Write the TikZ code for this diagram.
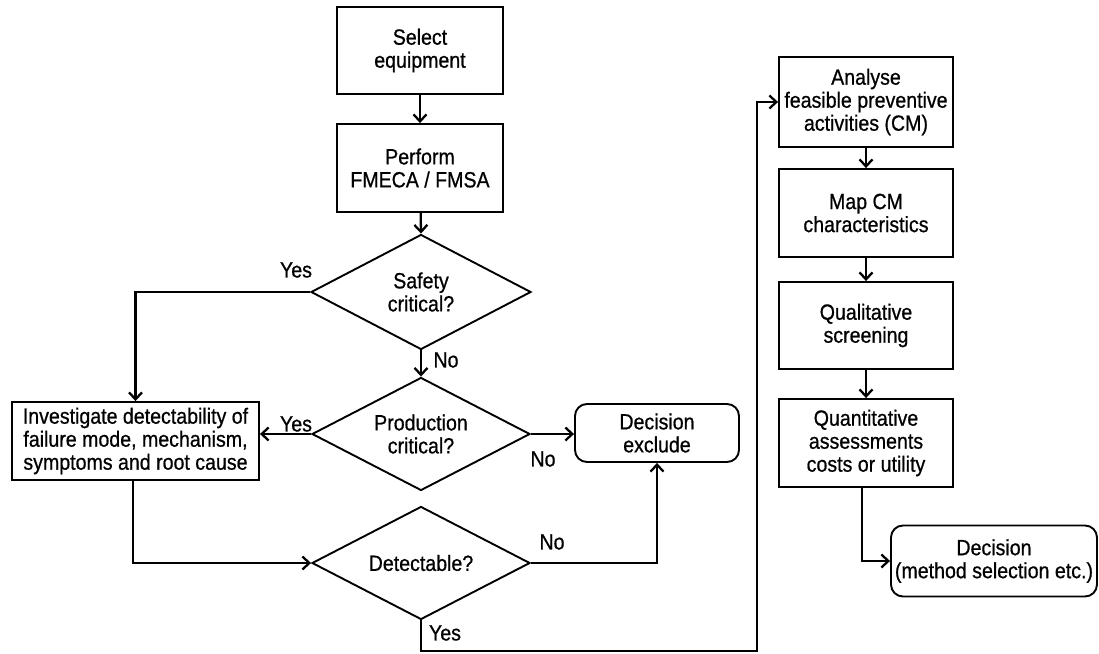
\documentclass[tikz,border=0pt]{standalone}
\usepackage{fontspec}
\setmainfont{Liberation Sans}[FakeStretch=0.89,FakeBold=0.7]
\usetikzlibrary{arrows.meta,shapes.geometric}

\begin{document}
\begin{tikzpicture}[x=1bp,y=-1bp, line width=1.9bp,
  font=\fontsize{22bp}{23bp}\selectfont,
  every node/.style={inner sep=0pt, align=center},
  box/.style={draw, line width=1.9bp, minimum width=#1},
  box/.default=166bp,
  endbox/.style={draw, line width=1.9bp, rounded corners=12bp},
  query/.style={draw, diamond, aspect=2, line width=1.9bp,
                minimum width=218bp, minimum height=113bp},
  flow/.style={draw, line width=2.3bp, -{Straight Barb[length=7bp,width=13bp]}},
  tag/.style={anchor=center}
]
\useasboundingbox (0,0) rectangle (1099,654);

% left column
\node[box, minimum height=87bp] (select) at (420,50.5) {Select\\equipment};
\node[box, minimum height=88bp] (perform) at (420,168) {Perform\\FMECA / FMSA};
\node[query, minimum width=220bp, minimum height=115bp] (safety) at (421,292) {Safety\\critical?};
\node[query] (production) at (421,434) {Production\\critical?};
\node[query] (detect) at (421,563) {Detectable?};
\node[box=247bp, minimum height=78bp] (invest) at (135.5,441)
  {Investigate detectability of\\failure mode, mechanism,\\symptoms and root cause};
\node[endbox, minimum width=164bp, minimum height=58bp] (exclude) at (657,433) {Decision\\exclude};

% right column
\node[box=174bp, minimum height=90bp] (analyse) at (866,102)
  {Analyse\\feasible preventive\\activities (CM)};
\node[box=174bp, minimum height=88bp] (map) at (866,213) {Map CM\\characteristics};
\node[box=174bp, minimum height=87bp] (qual) at (866,325.5) {Qualitative\\screening};
\node[box=174bp, minimum height=88bp] (quant) at (866,443)
  {Quantitative\\assessments\\costs or utility};
\node[endbox, minimum width=206bp, minimum height=71bp] (method) at (994,561)
  {Decision\\(method selection etc.)};

% branch labels
\node[tag] (ySafety) at (296,270) {Yes};
\node[tag] (nSafety) at (446,360) {No};
\node[tag] (yProd) at (296,424) {Yes};
\node[tag] (nProd) at (543,459) {No};
\node[tag] (nDetect) at (552,542) {No};
\node[tag] (yDetect) at (445,633) {Yes};

\coordinate (loop) at (757,651);

% connectors
\draw[flow] (select) -- (perform);
\draw[flow] (perform) -- (safety.north);
\draw[flow] (safety.west) -| (invest.north);
\draw[flow] (safety.south) -- (production.north);
\draw[flow] (production.west) -- (production.west -| invest.east);
\draw[flow] (production.east) -- (production.east -| exclude.west);
\draw[flow] ([xshift=-2.5bp]invest.south) |- (detect.west);
\draw[flow] (detect.east) -| (exclude.south);
\draw[flow] (detect.south) |- (loop) |- (analyse.west);
\draw[flow] (analyse) -- (map);
\draw[flow] (map) -- (qual);
\draw[flow] (qual) -- (quant);
\draw[flow] ([xshift=-4bp]quant.south) |- (method.west);
\end{tikzpicture}
\end{document}
